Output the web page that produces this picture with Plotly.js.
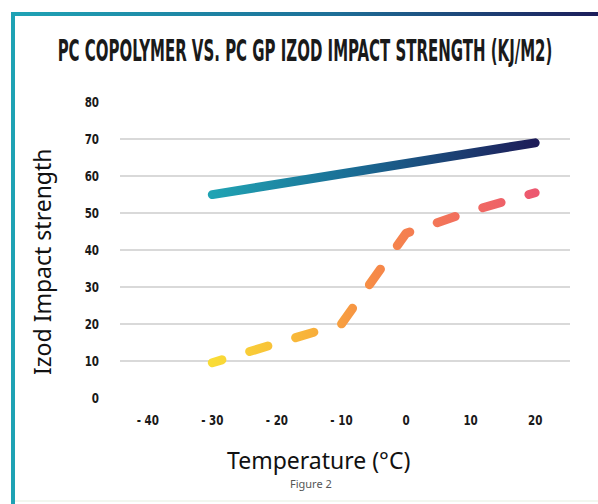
<!DOCTYPE html>
<html>
<head>
<meta charset="utf-8">
<script src="https://cdn.plot.ly/plotly-3.0.1.min.js"></script>
<style>
  html, body { margin: 0; padding: 0; background: #ffffff; }
  #wrap { position: relative; width: 598px; height: 504px; overflow: hidden; }
  #chart { position: absolute; left: 0; top: 0; width: 598px; height: 504px; }
  .bar-top { position: absolute; left: 11px; top: 12px; width: 587px; height: 4px;
             background: linear-gradient(to right, #1fa3b5 0%, #1d6f98 55%, #1c1d5a 100%); }
  .bar-left { position: absolute; left: 11px; top: 12px; width: 4px; height: 492px; background: #1ea2b4; }
  .bar-bottom { position: absolute; left: 15px; top: 500px; width: 583px; height: 2px; background: #f2f7ef; }
</style>
</head>
<body>
<div id="wrap">
  <div id="chart"></div>
  <div class="bar-top"></div>
  <div class="bar-left"></div>
  <div class="bar-bottom"></div>
</div>
<script>
// ---- Data ----
const temperatures = [-30, -20, -10, 0, 10, 20];
const pcCopolymer = [55, 57.8, 60.6, 63.4, 66.2, 69];
const pcGP = [9.5, 15, 20, 44.5, 50.5, 55.5];
const xTickVals = [-40, -30, -20, -10, 0, 10, 20];
const xTickText = ['- 40', '- 30', '- 20', '- 10', '0', '10', '20'];
const yTickVals = [0, 10, 20, 30, 40, 50, 60, 70, 80];
const chartTitle = 'PC COPOLYMER VS. PC GP IZOD IMPACT STRENGTH (KJ/M2)';
const xTitle = 'Temperature (°C)';
const yTitle = 'Izod Impact strength';
const caption = 'Figure 2';

const condensed = '"Liberation Sans Narrow", "DejaVu Sans Condensed", Roboto, sans-serif';
const geo = '"Noto Sans", "Lato", sans-serif';

const traces = [
  {
    x: temperatures, y: pcCopolymer, type: 'scatter', mode: 'lines', name: 'PC Copolymer',
    line: { color: '#1f8fab', width: 9 }, hoverinfo: 'skip'
  },
  {
    x: temperatures, y: pcGP, type: 'scatter', mode: 'lines', name: 'PC GP',
    line: { color: '#f7994a', width: 9, dash: '19px,29px' }, hoverinfo: 'skip'
  }
];

const layout = {
  width: 598, height: 504,
  paper_bgcolor: '#ffffff', plot_bgcolor: '#ffffff',
  showlegend: false,
  margin: { l: 120, r: 28, t: 101.7, b: 105.7 },
  title: {
    text: chartTitle,
    font: { family: condensed, size: 30, color: '#1a1a1a', weight: 'bold' },
    x: 305 / 598, xref: 'container', xanchor: 'center',
    y: 1 - 51 / 504, yref: 'container', yanchor: 'middle'
  },
  xaxis: {
    range: [-44.3, 25.4],
    tickvals: xTickVals, ticktext: xTickText,
    showgrid: false, zeroline: false, showline: false, ticks: '',
    ticklabelstandoff: 12,
    tickfont: { family: condensed, size: 14, color: '#1a1a1a', weight: 'bold' }
  },
  yaxis: {
    range: [-0.05, 80.05],
    tickvals: yTickVals,
    showgrid: true, gridcolor: '#d9d9d9', gridwidth: 1.5,
    zeroline: false, showline: false, ticks: '',
    ticklabelstandoff: 20,
    tickfont: { family: condensed, size: 14, color: '#1a1a1a', weight: 'bold' }
  },
  annotations: [
    { text: yTitle, xref: 'paper', yref: 'paper', x: -0.1733, y: 0.4595,
      xanchor: 'center', yanchor: 'middle', textangle: -90, showarrow: false,
      font: { family: geo, size: 23, color: '#111111' } },
    { text: xTitle, xref: 'paper', yref: 'paper', x: 0.4422, y: -0.2081,
      xanchor: 'center', yanchor: 'middle', showarrow: false,
      font: { family: geo, size: 23, color: '#111111' } },
    { text: caption, xref: 'paper', yref: 'paper', x: 0.4244, y: -0.2889,
      xanchor: 'center', yanchor: 'middle', showarrow: false,
      font: { family: geo, size: 11, color: '#555555' } }
  ]
};

Plotly.newPlot('chart', traces, layout, { staticPlot: true, displayModeBar: false }).then(function (gd) {
  const svgNS = 'http://www.w3.org/2000/svg';
  const defs = gd.querySelector('.main-svg defs');
  function addGrad(id, stops) {
    const g = document.createElementNS(svgNS, 'linearGradient');
    g.setAttribute('id', id);
    g.setAttribute('x1', '0'); g.setAttribute('y1', '0');
    g.setAttribute('x2', '1'); g.setAttribute('y2', '0');
    stops.forEach(function (s) {
      const st = document.createElementNS(svgNS, 'stop');
      st.setAttribute('offset', s[0]);
      st.setAttribute('stop-color', s[1]);
      g.appendChild(st);
    });
    defs.appendChild(g);
  }
  addGrad('gradSolid', [['0%', '#20a3b3'], ['45%', '#1a6a93'], ['100%', '#1d1c58']]);
  addGrad('gradDash', [['0%', '#f9dc36'], ['30%', '#f8b23a'], ['50%', '#f68a47'], ['75%', '#f2705c'], ['100%', '#ec5870']]);
  const lines = gd.querySelectorAll('.scatterlayer .trace path.js-line');
  const ids = ['gradSolid', 'gradDash'];
  lines.forEach(function (p, i) {
    p.style.stroke = 'url(#' + ids[i] + ')';
    p.style.strokeLinecap = 'round';
    p.style.strokeLinejoin = 'round';
    if (i === 1) p.style.strokeDashoffset = '9';
  });

  // Condense the title horizontally to the reference's narrow display face.
  const t = gd.querySelector('.g-gtitle text');
  if (t) {
    const bb = t.getBBox();
    const cx = bb.x + bb.width / 2;
    const sx = 495 / bb.width;
    const prev = t.getAttribute('transform') || '';
    t.setAttribute('transform', 'translate(' + cx + ',0) scale(' + sx + ',1) translate(' + (-cx) + ',0) ' + prev);
  }
  // Condense tick labels slightly as well.
  gd.querySelectorAll('.xtick text, .ytick text').forEach(function (el) {
    const bb = el.getBBox();
    const cx = el.closest('.ytick') ? bb.x + bb.width : bb.x + bb.width / 2;
    const prev = el.getAttribute('transform') || '';
    el.setAttribute('transform', prev + ' translate(' + cx + ',0) scale(0.82,1) translate(' + (-cx) + ',0)');
  });
});
</script>
</body>
</html>
